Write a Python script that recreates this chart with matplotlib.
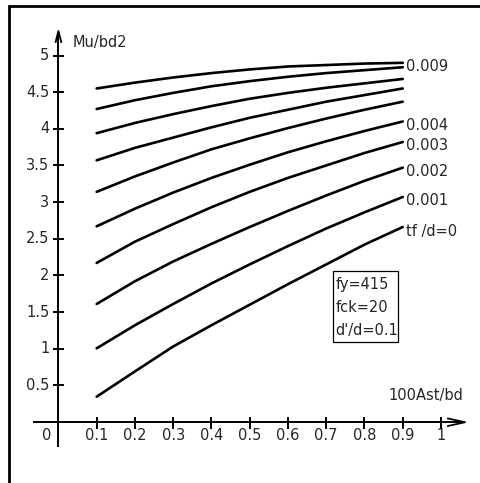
import matplotlib
matplotlib.use("Agg")
import matplotlib.pyplot as plt
from matplotlib.lines import Line2D
from matplotlib.patches import Rectangle
from matplotlib.transforms import Affine2D

# ---------------- data ----------------
x_vals = [0.1, 0.2, 0.3, 0.4, 0.5, 0.6, 0.7, 0.8, 0.9]
curve_tf_0 = [0.345, 0.69, 1.03, 1.32, 1.60, 1.88, 2.15, 2.42, 2.66]
curve_tf_001 = [1.005, 1.32, 1.61, 1.89, 2.15, 2.40, 2.64, 2.86, 3.07]
curve_tf_002 = [1.61, 1.92, 2.19, 2.43, 2.66, 2.88, 3.09, 3.29, 3.47]
curve_tf_003 = [2.17, 2.46, 2.70, 2.93, 3.14, 3.33, 3.50, 3.67, 3.82]
curve_tf_004 = [2.67, 2.91, 3.13, 3.33, 3.51, 3.68, 3.83, 3.97, 4.10]
curve_tf_005 = [3.14, 3.35, 3.54, 3.72, 3.87, 4.01, 4.14, 4.26, 4.37]
curve_tf_006 = [3.57, 3.74, 3.88, 4.02, 4.15, 4.26, 4.37, 4.46, 4.55]
curve_tf_007 = [3.94, 4.08, 4.20, 4.31, 4.41, 4.49, 4.56, 4.62, 4.68]
curve_tf_008 = [4.27, 4.39, 4.49, 4.58, 4.65, 4.71, 4.76, 4.80, 4.84]
curve_tf_009 = [4.55, 4.63, 4.70, 4.76, 4.81, 4.85, 4.87, 4.89, 4.90]
curves = [curve_tf_0, curve_tf_001, curve_tf_002, curve_tf_003, curve_tf_004,
          curve_tf_005, curve_tf_006, curve_tf_007, curve_tf_008, curve_tf_009]
curve_labels = ["tf /d=0", "0.001", "0.002", "0.003", "0.004",
                None, None, None, None, "0.009"]

x_ticks = [0.1, 0.2, 0.3, 0.4, 0.5, 0.6, 0.7, 0.8, 0.9, 1.0]
x_tick_labels = ["0.1", "0.2", "0.3", "0.4", "0.5", "0.6", "0.7", "0.8", "0.9", "1"]
y_ticks = [0.5, 1.0, 1.5, 2.0, 2.5, 3.0, 3.5, 4.0, 4.5, 5.0]
y_tick_labels = ["0.5", "1", "1.5", "2", "2.5", "3", "3.5", "4", "4.5", "5"]
x_title = "100Ast/bd"
y_title = "Mu/bd2"
info_lines = ["fy=415", "fck=20", "d'/d=0.1"]

# ---------------- figure ----------------
W, H = 481, 483
fig = plt.figure(figsize=(W / 100, H / 100), dpi=100)
fig.patch.set_facecolor("white")
ax = fig.add_axes([0, 0, 1, 1])
ax.set_axis_off()

# origin at pixel (58.4, 422); 1 x-unit = 382.6 px ; 1 y-unit = 73.3 px
x0p, y0p, sx, sy = 58.4, 422.0, 382.6, 73.3
ax.set_xlim(-x0p / sx, (W - x0p) / sx)
ax.set_ylim(-(H - y0p) / sy, y0p / sy)

# pixel transform (top-left origin)
pxT = Affine2D().scale(1 / W, -1 / H).translate(0, 1) + fig.transFigure

FONT = "DejaVu Sans"
FS = 10.5
TXT = "#262626"

# outer frame (left + top)
fig.add_artist(Line2D([8.7, 8.7, W], [H, 6.2, 6.2], transform=pxT,
                      color="black", lw=2.0, solid_joinstyle="miter"))

# axes lines
lw_ax = 1.4
ax.plot([0, 0], [-(447 - y0p) / sy, (y0p - 33) / sy], color="black", lw=lw_ax,
        solid_capstyle="butt")
ax.plot([(33 - x0p) / sx, (464 - x0p) / sx], [0, 0], color="black", lw=lw_ax,
        solid_capstyle="butt")
# arrowheads (pixel shapes)
fig.add_artist(Line2D([55.6, 58.4, 61.2], [42, 31, 42], transform=pxT,
                      color="black", lw=1.3))
fig.add_artist(Line2D([448, 465, 448], [418.5, 422.2, 426], transform=pxT,
                      color="black", lw=1.3))

# ticks
for xt, lab in zip(x_ticks, x_tick_labels):
    ax.plot([xt, xt], [-6.5 / sy, 5.5 / sy], color="black", lw=lw_ax,
            solid_capstyle="butt")
    ax.text(xt, -14 / sy, lab, ha="center", va="center", fontsize=FS,
            family=FONT, color=TXT)
for yt, lab in zip(y_ticks, y_tick_labels):
    ax.plot([-5.5 / sx, 5.5 / sx], [yt, yt], color="black", lw=lw_ax,
            solid_capstyle="butt")
    ax.text(-9 / sx, yt, lab, ha="right", va="center", fontsize=FS,
            family=FONT, color=TXT)
ax.text(-12 / sx, -14 / sy, "0", ha="center", va="center", fontsize=FS,
        family=FONT, color=TXT)

# axis titles
ax.text(73, 43, y_title, transform=pxT, ha="left", va="center", fontsize=FS,
        family=FONT, color=TXT)
ax.text(463, 395.5, x_title, transform=pxT, ha="right", va="center",
        fontsize=FS, family=FONT, color=TXT)

# curves
for ys, lab in zip(curves, curve_labels):
    ax.plot(x_vals, ys, color="black", lw=1.9, solid_capstyle="round",
            solid_joinstyle="round")
    if lab is not None:
        ax.annotate(lab, xy=(x_vals[-1], ys[-1]), xytext=(3.5, -4),
                    textcoords="offset pixels", ha="left", va="center",
                    fontsize=FS, family=FONT, color=TXT)

# info box
fig.add_artist(Rectangle((333.5, 271), 64.5, 70.5, transform=pxT, fill=False,
                         edgecolor="black", lw=0.9))
for i, line in enumerate(info_lines):
    ax.text(335.5, 285 + 22.5 * i, line, transform=pxT, ha="left",
            va="center", fontsize=FS, family=FONT, color=TXT)

fig.savefig("out.png", dpi=100, facecolor="white")
